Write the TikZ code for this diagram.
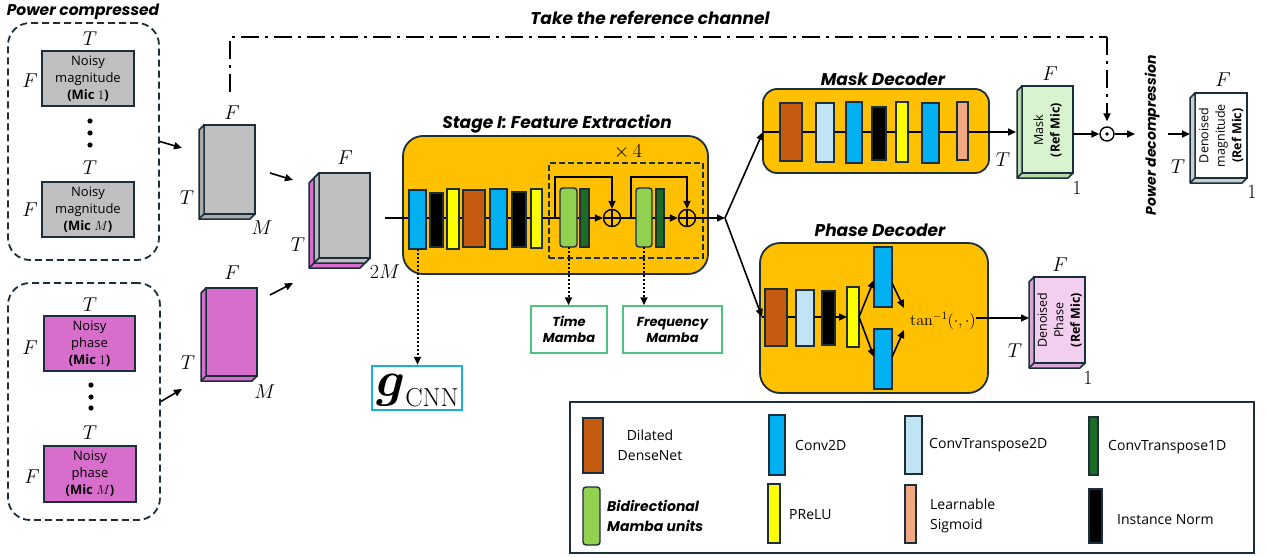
\RequirePackage{fix-cm}
\documentclass[tikz,border=0pt]{standalone}
\usepackage{amsmath}
\usepackage[no-math]{fontspec}
\setmainfont{Open Sans}
\newfontfamily\popfont{Poppins}
\usetikzlibrary{arrows.meta}
\pgfdeclarelayer{back}
\pgfdeclarelayer{lines}
\pgfsetlayers{back,lines,main}
\definecolor{bd}{HTML}{1A2E3B}
\definecolor{orng}{HTML}{FFC000}
\definecolor{gry}{HTML}{BFBFBF}
\definecolor{gryd}{HTML}{A9A9A9}
\definecolor{pnk}{HTML}{D86ECC}
\definecolor{cblue}{HTML}{00B0F0}
\definecolor{lblue}{HTML}{C1E4F5}
\definecolor{brn}{HTML}{C55A11}
\definecolor{ylw}{HTML}{FFFF00}
\definecolor{slm}{HTML}{F1A983}
\definecolor{lgrn}{HTML}{92D050}
\definecolor{dgrn}{HTML}{1E6B24}
\definecolor{mskg}{HTML}{D9F2D0}
\definecolor{mskd}{HTML}{B8D9AB}
\definecolor{phs}{HTML}{F2CEEF}
\definecolor{phsd}{HTML}{D9A8D4}
\definecolor{wsd}{HTML}{C8CDD0}
\definecolor{mamg}{HTML}{4EC381}
\definecolor{gcnn}{HTML}{1AAEE8}
\newcommand\blk[7][]{\node[blk,fill=#7,minimum width={#5-#3},minimum height={#6-#4},#1] (#2) at ({(#3+#5)/2},{(#4+#6)/2}) {};}
\newcommand\slab[3]{\filldraw[fill=#2,draw=bd,line width=1.5pt,line join=round] (#1.north west) -- ++(-#3,#3) -- ([shift={(-#3,#3)}]#1.south west) -- ([shift={(-#3,#3)}]#1.south east) -- (#1.south east) -- (#1.south west) -- cycle; \draw[bd,line width=1.5pt] (#1.south west) -- ++(-#3,#3);}
\begin{document}
\begin{tikzpicture}[x=1pt,y=-1pt,
 blk/.style={draw=bd,line width=1.4pt,inner sep=0pt,outer sep=0pt},
 face/.style={draw=bd,line width=1.6pt,inner sep=0pt,outer sep=0pt},
 grp/.style={draw=bd,line width=1.8pt,dash pattern=on 7pt off 4pt,rounded corners=22pt,inner sep=0pt},
 obox/.style={draw=bd,fill=orng,line width=1.8pt,rounded corners=20pt,inner sep=0pt},
 nbox/.style={draw=bd,line width=1.8pt,inner sep=0pt,align=center,font=\fontsize{13}{17}\selectfont},
 ml/.style={inner sep=0pt,font=\fontsize{20}{20}\selectfont},
 ttl/.style={inner sep=0pt,font=\popfont\bfseries\itshape\fontsize{15.5}{15.5}\selectfont},
 ttlb/.style={inner sep=0pt,font=\popfont\bfseries\itshape\fontsize{17}{17}\selectfont},
 ln/.style={line width=1.6pt},
 arr/.style={line width=1.6pt,-{Triangle[length=8pt,width=7pt]}},
 dots/.style={line width=2pt,dash pattern=on 2pt off 2pt,-{Triangle[length=8pt,width=7pt]}},
 dd/.style={line width=1.8pt,dash pattern=on 18pt off 6pt on 3pt off 6pt},
 cubetxt/.style={rotate=90,align=center,inner sep=0pt,font=\fontsize{12.5}{16.5}\selectfont},
 leg/.style={inner sep=0pt,anchor=west,font=\fontsize{14}{20}\selectfont,align=left},
 mamba/.style={draw=mamg,line width=1.5pt,inner sep=0pt,align=center,font=\popfont\bfseries\itshape\fontsize{13}{16}\selectfont},
 plus/.style={circle,draw=black,line width=1.4pt,minimum size=17pt,inner sep=0pt,path picture={\draw[line width=1.4pt] (path picture bounding box.north) -- (path picture bounding box.south) (path picture bounding box.west) -- (path picture bounding box.east);}},
 odotst/.style={circle,draw=black,line width=1.4pt,minimum size=14pt,inner sep=0pt},
]
\useasboundingbox (0,0) rectangle (1266,557);

% ---------------- input groups
\node[grp,minimum width=151,minimum height=237] (gmag) at (83.5,141.5) {};
\node[grp,minimum width=152,minimum height=237] (gph) at (84,401.5) {};
\node[ttl] (tpc) at (83,12) {Power compressed};

\node[nbox,fill=gry,minimum width=92,minimum height=55] (nm1) at (88,78.5) {Noisy\\magnitude\\\textbf{(Mic} $1$\textbf{)}};
\node[ml] (nm1T) at (90,39) {$T$};
\node[ml] (nm1F) at (30,81) {$F$};
\fill (90,121) circle (2.6) (90,133) circle (2.6) (90,145) circle (2.6);
\node[nbox,fill=gry,minimum width=92,minimum height=55] (nmM) at (88,209.5) {Noisy\\magnitude\\\textbf{(Mic} $M$\textbf{)}};
\node[ml] (nmMT) at (90,168) {$T$};
\node[ml] (nmMF) at (30,210) {$F$};

\node[nbox,fill=pnk,minimum width=91,minimum height=55] (np1) at (89.5,343.5) {Noisy\\phase\\\textbf{(Mic} $1$\textbf{)}};
\node[ml] (np1T) at (90,305) {$T$};
\node[ml] (np1F) at (30,348) {$F$};
\fill (91,385) circle (2.6) (91,397) circle (2.6) (91,408) circle (2.6);
\node[nbox,fill=pnk,minimum width=92,minimum height=56] (npM) at (90,474) {Noisy\\phase\\\textbf{(Mic} $M$\textbf{)}};
\node[ml] (npMT) at (90,433) {$T$};
\node[ml] (npMF) at (32,477) {$F$};

% ---------------- cubes
\node[face,fill=gry,minimum width=51,minimum height=89] (gcube) at (229.5,169.5) {};
\slab{gcube}{gryd}{5}
\node[ml] (gcF) at (232,113) {$F$};
\node[ml] (gcT) at (187,198) {$T$};
\node[ml] (gcM) at (262,228) {$M$};

\node[face,fill=pnk,minimum width=51,minimum height=88] (pcube) at (231.5,332) {};
\slab{pcube}{pnk}{5}
\node[ml] (pcF) at (232,273) {$F$};
\node[ml] (pcT) at (188,363) {$T$};
\node[ml] (pcM) at (265,392) {$M$};

\node[face,fill=gry,minimum width=51,minimum height=85] (cube2) at (344.5,215.5) {};
\slab{cube2}{pnk}{10}
\slab{cube2}{gry}{5}
\node[ml] (c2F) at (345,158) {$F$};
\node[ml] (c2T) at (298,245) {$T$};
\node[ml] (c2M) at (385,272) {$2M$};

\coordinate (a1e) at (182,148);
\coordinate (a2s) at (270,173);
\coordinate (a2e) at (293,180);
\coordinate (a3e) at (182,389);
\coordinate (a4s) at (270,295);
\coordinate (a4e) at (293,283);
\draw[arr] (gmag.east) -- (a1e);
\draw[arr] (a2s) -- (a2e);
\draw[arr] (gph.east) -- (a3e);
\draw[arr] (a4s) -- (a4e);

% ---------------- orange boxes
\begin{pgfonlayer}{back}
\node[obox,minimum width=305,minimum height=138] (stg) at (555.5,205) {};
\node[obox,minimum width=226,minimum height=84,rounded corners=14pt] (mdec) at (876,131) {};
\node[obox,minimum width=228,minimum height=150] (pdec) at (874,318) {};
\end{pgfonlayer}
\node[ttlb] (tstg) at (557,124) {Stage I: Feature Extraction};
\node[ttlb] (tmd) at (883,79) {Mask Decoder};
\node[ttlb] (tpd) at (880,230) {Phase Decoder};

% ---------------- Stage I
\blk{s1}{409}{190}{426}{249}{cblue}
\blk{s2}{430}{193}{443}{247}{black}
\blk{s3}{447}{189}{459}{249}{ylw}
\blk{s4}{463}{190}{485}{247}{brn}
\blk{s5}{490}{189}{507}{249}{cblue}
\blk{s6}{512}{192}{526}{247}{black}
\blk{s7}{531}{189}{542}{248}{ylw}
\node[draw=bd,line width=1.8pt,dash pattern=on 6pt off 3pt,minimum width=154,minimum height=95,inner sep=0pt] (x4box) at (626,210.5) {};
\node[ml] (x4) at (628,152) {$\times\,4$};
\blk[rounded corners=3pt]{m1}{560}{188}{577}{247}{lgrn}
\blk{d1}{580}{189}{589}{247}{dgrn}
\node[plus] (p1) at (612,218) {};
\blk[rounded corners=3pt]{m2}{636}{188}{652}{247}{lgrn}
\blk{d2}{656}{189}{664}{247}{dgrn}
\node[plus] (p2) at (687,218) {};
\coordinate (in) at (385,218);
\coordinate (k1) at (555,218);
\coordinate (k2) at (631,218);
\coordinate (split) at (725,218);
\begin{pgfonlayer}{lines}
\draw[ln] (in) -- (d1.east |- in);
\draw[ln] (p1.east) -- (d2.east |- p1.east);
\end{pgfonlayer}
\draw[arr] (d1.east |- p1.west) -- (p1.west);
\draw[arr] (d2.east |- p2.west) -- (p2.west);
\draw[arr] (k1) -- ++(0,-41) -| (p1.north);
\draw[arr] (k2) -- ++(0,-41) -| (p2.north);
\draw[arr] (p2.east) -- (split);

% ---------------- g_CNN and mamba boxes
\node[draw=gcnn,line width=2.5pt,minimum width=90,minimum height=44,inner sep=0pt] (gc) at (417,388) {};
\node[inner sep=0pt,anchor=base west,font=\fontsize{50}{50}\selectfont] (gct) at (376,396) {$\boldsymbol{g}$\raisebox{-10pt}{\fontsize{26}{26}\selectfont$\mathrm{CNN}$}};
\node[mamba,minimum width=76,minimum height=47] (tmb) at (569,329.5) {Time\\Mamba};
\node[mamba,minimum width=99,minimum height=47] (fmb) at (672.5,329.5) {Frequency\\Mamba};
\draw[dots] (s1.south) -- (s1.south |- gc.north);
\draw[dots] (m1.south) -- (m1.south |- tmb.north);
\draw[dots] (m2.south) -- (m2.south |- fmb.north);

% ---------------- split
\coordinate (min) at (763,132);
\coordinate (pin) at (762,317);
\draw[arr] (split) -- (min);
\draw[arr] (split) -- (pin);

% ---------------- mask decoder
\blk{mk1}{780}{103}{802}{161}{brn}
\blk{mk2}{816}{103}{834}{162}{lblue}
\blk{mk3}{846}{102}{862}{163}{cblue}
\blk{mk4}{872}{107}{886}{160}{black}
\blk{mk5}{896}{102}{908}{162}{ylw}
\blk{mk6}{922}{103}{939}{163}{cblue}
\blk{mk7}{957}{102}{968}{160}{slm}
\node[face,fill=mskg,minimum width=51,minimum height=87] (mask) at (1047.5,129.5) {};
\slab{mask}{mskd}{5}
\node[cubetxt] (masktxt) at (1047.5,130) {Mask\\\textbf{(Ref Mic)}};
\node[ml] (mkF) at (1050,74) {$F$};
\node[ml] (mkT) at (1003,160) {$T$};
\node[ml] (mk1l) at (1077,188) {$1$};
\coordinate (mslab) at (1016,132);
\begin{pgfonlayer}{lines}
\draw[arr] (min) -- (mslab);
\end{pgfonlayer}

% ---------------- reference channel
\coordinate (refs) at (230,92);
\coordinate (rc) at (1107,37);
\node[odotst] (odot) at (1107,134) {};
\fill (odot) circle (1.9);
\draw[dd] (refs) |- (rc);
\draw[dd,-{Triangle[length=8pt,width=7pt]},shorten >=5pt] (rc) -- (odot.north);
\node[ttlb] (tref) at (650,18) {Take the reference channel};

\draw[arr] (mask.east |- odot.west) -- (odot.west);
\coordinate (pd1) at (1135,134);
\coordinate (pd2) at (1168,134);
\coordinate (dslab) at (1190,134);
\draw[arr] (odot.east) -- (pd1);
\node[ttl,rotate=90,font=\popfont\bfseries\itshape\fontsize{14}{14}\selectfont] (tpdc) at (1152,135) {Power decompression};
\draw[arr] (pd2) -- (dslab);
\node[face,fill=white,minimum width=52,minimum height=85] (dmag) at (1221,135.5) {};
\slab{dmag}{wsd}{5}
\node[cubetxt] (dmagtxt) at (1221,135.5) {Denoised\\magnitude\\\textbf{(Ref Mic)}};
\node[ml] (dmF) at (1223,80) {$F$};
\node[ml] (dmT) at (1178,167) {$T$};
\node[ml] (dm1) at (1252,192) {$1$};

% ---------------- phase decoder
\blk{pb}{765}{289}{787}{346}{brn}
\blk{pl}{796}{290}{814}{346}{lblue}
\blk{pk}{822}{291}{835}{345}{black}
\blk{py}{847}{287}{859}{347}{ylw}
\blk{pt}{874}{247}{892}{307}{cblue}
\blk{pu}{874}{329}{892}{389}{cblue}
\begin{pgfonlayer}{lines}
\draw[ln] (pin) -- (pk.east |- pin);
\end{pgfonlayer}
\draw[arr] (pk.east |- pin) -- (py.west |- pin);
\coordinate (c1) at (904,308);
\coordinate (c2) at (904,330);
\draw[arr] (py.east) -- ([yshift=-3pt]pt.west);
\draw[arr] (py.east) -- ([yshift=2pt]pu.west);
\draw[arr] ([yshift=-6pt]pt.east) -- (c1);
\draw[arr] ([yshift=2pt]pu.east) -- (c2);
\node[inner sep=0pt,font=\fontsize{16}{16}\selectfont] (tanf) at (943,321) {$\tan^{-1}(\cdot,\cdot)$};
\coordinate (phslab) at (1029,318);
\draw[arr] (tanf.east |- phslab) -- (phslab);
\node[face,fill=phs,minimum width=51,minimum height=86] (phc) at (1059.5,320) {};
\slab{phc}{phsd}{5}
\node[cubetxt] (phctxt) at (1059.5,320) {Denoised\\Phase\\\textbf{(Ref Mic)}};
\node[ml] (phF) at (1060,265) {$F$};
\node[ml] (phT) at (1015,351) {$T$};
\node[ml] (ph1) at (1088,378) {$1$};

% ---------------- legend
\node[draw=bd,line width=1.8pt,minimum width=684,minimum height=151,inner sep=0pt] (leg) at (912,477.5) {};
\blk{lg1}{583}{418}{603}{473}{brn}
\node[inner sep=0pt,align=center,font=\fontsize{14}{20}\selectfont] (lt1) at (650,445) {Dilated\\DenseNet};
\blk{lg2}{769}{415}{785}{475}{cblue}
\node[leg] (lt2) at (795,445) {Conv2D};
\blk{lg3}{905}{416}{922}{474}{lblue}
\node[leg] (lt3) at (929,445) {ConvTranspose2D};
\blk{lg4}{1089}{417}{1098}{475}{dgrn}
\node[leg] (lt4) at (1108,447) {ConvTranspose1D};
\blk[rounded corners=3pt]{lg5}{583}{487}{600}{545}{lgrn}
\node[leg,font=\popfont\bfseries\itshape\fontsize{14}{20}\selectfont] (lt5) at (607,516) {Bidirectional\\Mamba units};
\blk{lg6}{768}{484}{780}{543}{ylw}
\node[leg] (lt6) at (789,515) {PReLU};
\blk{lg7}{905}{485}{916}{543}{slm}
\node[leg] (lt7) at (930,516) {Learnable\\Sigmoid};
\blk{lg8}{1089}{489}{1102}{543}{black}
\node[leg] (lt8) at (1117,520) {Instance Norm};
\end{tikzpicture}
\end{document}
